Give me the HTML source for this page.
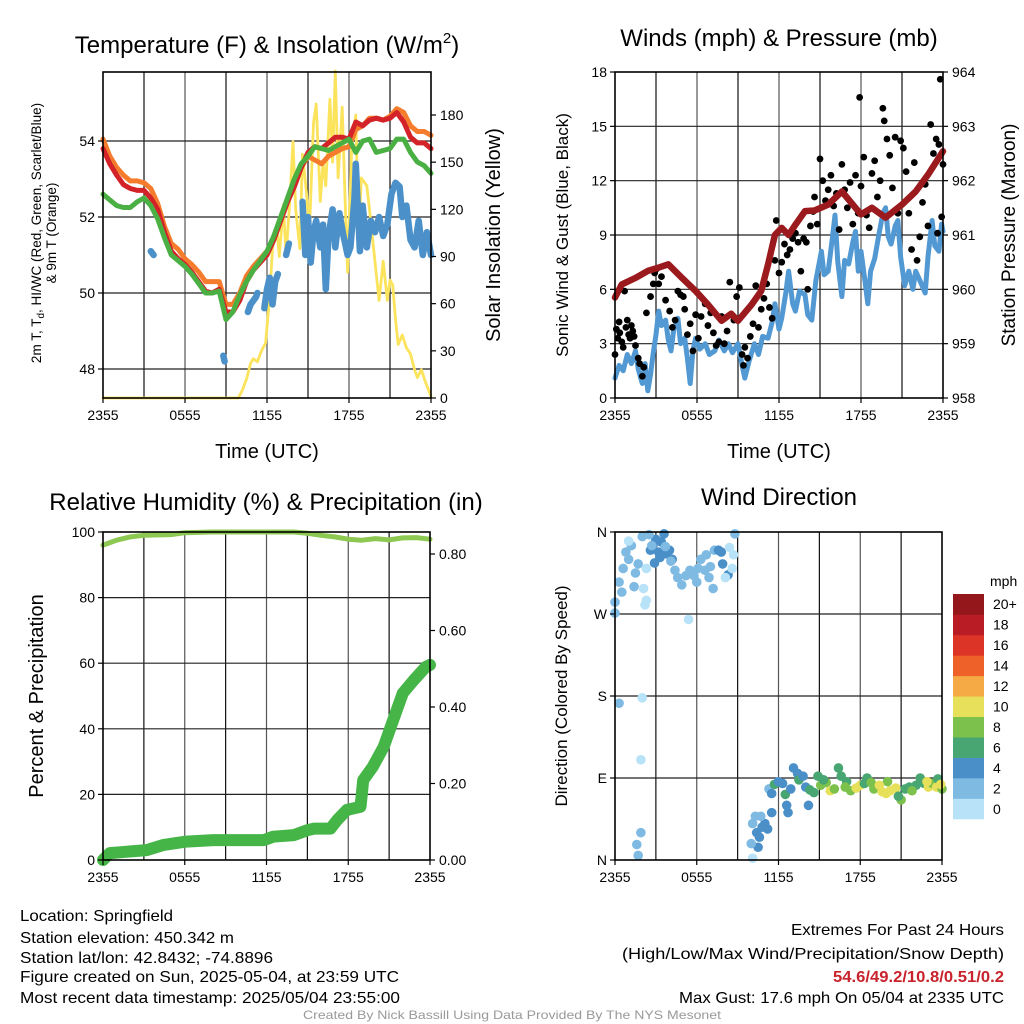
<!DOCTYPE html>
<html><head><meta charset="utf-8"><title>Mesonet station meteogram</title>
<style>
html,body{margin:0;padding:0;background:#fff;}
svg{display:block;font-family:"Liberation Sans",Arial,sans-serif;}
</style></head>
<body>
<svg id="chart" width="1024" height="1024" viewBox="0 0 1024 1024" xmlns="http://www.w3.org/2000/svg">
<rect x="0" y="0" width="1024" height="1024" fill="#fff"/>
<!-- titles -->
<text x="267" y="53" font-size="24" text-anchor="middle">Temperature (F) &amp; Insolation (W/m<tspan font-size="15" dy="-10">2</tspan><tspan dy="10">)</tspan></text>
<text x="779" y="46" font-size="24" text-anchor="middle">Winds (mph) &amp; Pressure (mb)</text>
<text x="266" y="510" font-size="24" text-anchor="middle">Relative Humidity (%) &amp; Precipitation (in)</text>
<text x="779" y="505" font-size="24" text-anchor="middle">Wind Direction</text>
<!-- axis titles -->
<text x="267" y="458" font-size="20" text-anchor="middle">Time (UTC)</text>
<text x="779" y="458" font-size="20" text-anchor="middle">Time (UTC)</text>
<text transform="translate(41,233) rotate(-90)" font-size="13.5" text-anchor="middle">2m T, T<tspan font-size="10" dy="3">d</tspan><tspan dy="-3">, HI/WC (Red, Green, Scarlet/Blue)</tspan></text>
<text transform="translate(56,233) rotate(-90)" font-size="13.5" text-anchor="middle">&amp; 9m T (Orange)</text>
<text transform="translate(500,235) rotate(-90)" font-size="20" text-anchor="middle">Solar Insolation (Yellow)</text>
<text transform="translate(568,235) rotate(-90)" font-size="17" text-anchor="middle">Sonic Wind &amp; Gust (Blue, Black)</text>
<text transform="translate(1015,235) rotate(-90)" font-size="19" text-anchor="middle">Station Pressure (Maroon)</text>
<text transform="translate(43,696) rotate(-90)" font-size="20" text-anchor="middle">Percent &amp; Precipitation</text>
<text transform="translate(567,696) rotate(-90)" font-size="17" text-anchor="middle">Direction (Colored By Speed)</text>
<!-- info text -->
<g font-size="16">
<text x="20" y="921" textLength="153" lengthAdjust="spacingAndGlyphs">Location: Springfield</text>
<text x="20" y="943" textLength="214" lengthAdjust="spacingAndGlyphs">Station elevation: 450.342 m</text>
<text x="20" y="963" textLength="253" lengthAdjust="spacingAndGlyphs">Station lat/lon: 42.8432; -74.8896</text>
<text x="20" y="982" textLength="379" lengthAdjust="spacingAndGlyphs">Figure created on Sun, 2025-05-04, at 23:59 UTC</text>
<text x="20" y="1003" textLength="380" lengthAdjust="spacingAndGlyphs">Most recent data timestamp: 2025/05/04 23:55:00</text>
</g>
<g font-size="16">
<text x="791" y="935" textLength="213" lengthAdjust="spacingAndGlyphs">Extremes For Past 24 Hours</text>
<text x="622" y="959" textLength="382" lengthAdjust="spacingAndGlyphs">(High/Low/Max Wind/Precipitation/Snow Depth)</text>
<text x="833" y="982" textLength="171" lengthAdjust="spacingAndGlyphs" font-weight="bold" fill="#c8232c">54.6/49.2/10.8/0.51/0.2</text>
<text x="679" y="1003" textLength="325" lengthAdjust="spacingAndGlyphs">Max Gust: 17.6 mph On 05/04 at 2335 UTC</text>
</g>
<text x="303" y="1019" font-size="12" fill="#999" textLength="418" lengthAdjust="spacingAndGlyphs">Created By Nick Bassill Using Data Provided By The NYS Mesonet</text>
</svg>
<script>
// ---------- data ----------
const hourTicks = ["2355","0555","1155","1755","2355"];
const halfHours = [0,0.5,1,1.5,2,2.5,3,3.5,4,4.5,5,5.5,6,6.5,7,7.5,8,8.5,9,9.5,10,10.5,11,11.5,12,12.5,13,13.5,14,14.5,15,15.5,16,16.5,17,17.5,18,18.5,19,19.5,20,20.5,21,21.5,22,22.5,23,23.5,24];
const tempRed = [53.8,53.4,53.1,52.85,52.75,52.7,52.7,52.5,52.2,51.6,51.1,50.9,50.75,50.55,50.3,50.05,50.0,50.1,49.5,49.5,49.8,50.3,50.6,50.8,51.0,51.4,51.9,52.4,52.8,53.3,53.7,53.85,53.8,53.95,54.1,54.1,54.05,54.5,54.4,54.55,54.6,54.55,54.6,54.75,54.5,54.1,53.95,53.95,53.8];
const temp9m = [54.05,53.6,53.3,53.1,52.95,52.95,52.9,52.75,52.35,51.75,51.3,51.15,50.9,50.75,50.55,50.3,50.3,50.3,49.7,49.7,50.0,50.45,50.7,50.9,51.1,51.4,51.9,52.4,52.8,53.3,53.6,53.5,53.4,53.6,53.7,53.8,53.85,54.3,54.4,54.6,54.6,54.55,54.65,54.85,54.75,54.4,54.25,54.25,54.15];
const dewGreen = [52.6,52.45,52.3,52.25,52.25,52.4,52.5,52.3,51.95,51.45,51.0,50.85,50.7,50.5,50.25,50.0,50.0,50.05,49.3,49.5,49.95,50.3,50.6,50.85,51.1,51.5,52.0,52.5,53.0,53.4,53.6,53.85,53.8,53.75,53.85,53.95,54.05,53.7,54.0,54.05,53.7,53.75,53.8,54.05,54.05,53.7,53.45,53.35,53.15];
const hiwcTimes = [3.5,3.7,8.8,8.9,10.6,10.8,11.2,11.3,11.8,12.0,12.2,12.4,12.6,12.8,13.4,13.6,14.6,14.8,15.0,15.2,15.4,15.6,15.9,16.1,16.3,16.5,16.8,17.0,17.3,17.6,17.9,18.1,18.4,18.5,18.8,19.0,19.3,19.6,19.9,20.2,20.5,20.8,21.1,21.4,21.7,21.9,22.2,22.5,22.8,23.1,23.4,23.7,24.0];
const hiwcVals = [51.1,51.0,48.35,48.2,49.5,49.7,49.9,50.0,49.6,50.1,50.4,49.7,50.3,50.5,51.0,51.3,52.4,51.0,52.0,50.8,51.6,51.9,51.2,51.8,50.1,51.5,52.2,51.2,52.1,51.5,51.0,51.2,52.5,53.4,51.1,52.3,51.2,51.9,51.6,52.0,51.5,51.8,52.6,52.9,52.8,52.0,52.3,51.4,51.2,51.9,51.0,51.6,51.0];
const solarTimes = [0,9.9,10.2,10.5,10.8,11.0,11.3,11.6,11.9,12.2,12.4,12.7,12.9,13.2,13.4,13.7,13.9,14.1,14.4,14.6,14.9,15.1,15.4,15.6,15.9,16.1,16.3,16.6,16.8,17.0,17.2,17.5,17.7,17.9,18.2,18.5,18.7,18.9,19.3,19.5,19.8,20.2,20.5,20.8,21.0,21.2,21.4,21.6,21.9,22.2,22.5,22.8,23.0,23.3,23.6,24];
const solarVals = [0,0,5,12,22,25,23,30,35,65,95,110,90,123,90,130,163,120,95,155,130,105,175,187,125,150,135,190,150,208,140,185,130,80,160,180,100,140,135,120,95,62,87,62,75,72,50,34,40,32,28,18,13,18,10,1];
const windTimes = [0,0.3,0.6,0.9,1.2,1.5,1.7,2.0,2.2,2.4,2.6,2.8,3.0,3.2,3.4,3.7,3.9,4.1,4.3,4.6,4.8,5.1,5.3,5.5,5.7,5.9,6.2,6.6,6.9,7.3,7.6,8.0,8.3,8.6,9.0,9.3,9.5,9.8,10.2,10.5,10.8,11.2,11.5,11.7,12.0,12.2,12.5,12.7,13.0,13.2,13.5,13.9,14.1,14.4,14.7,15.1,15.3,15.6,15.9,16.1,16.3,16.6,16.8,17.1,17.4,17.6,17.8,18.0,18.3,18.5,18.7,19.0,19.3,19.6,19.8,20.0,20.2,20.5,20.7,20.9,21.2,21.5,21.8,22.0,22.3,22.7,22.9,23.2,23.4,23.7,23.9,24];
const windVals = [1.1,1.8,1.5,2.4,1.9,2.6,1.6,0.8,1.9,0.4,1.3,2.5,3.5,4.8,4.0,4.3,3.2,2.6,3.8,4.4,3.0,3.3,2.2,0.8,2.6,3.3,2.7,3.0,2.4,2.6,3.2,2.6,3.0,2.5,3.0,1.8,1.1,2.0,3.0,2.4,3.4,3.3,4.2,5.2,3.8,4.4,5.8,7.0,5.2,4.8,5.9,5.7,4.6,4.3,6.5,8.1,6.8,7.0,8.8,10.1,7.5,5.6,7.6,7.4,8.6,9.2,7.0,8.1,6.4,5.2,7.0,7.7,9.0,10.2,10.5,8.9,8.5,9.5,9.8,7.8,6.2,7.0,6.0,7.0,6.5,5.8,7.8,9.8,8.4,8.1,9.6,9.2];
const gustTimes = [0.0,0.1,0.2,0.3,0.35,0.5,0.6,0.7,0.8,0.9,1.0,1.1,1.2,1.3,1.4,1.5,1.7,1.8,2.0,2.1,2.3,2.6,2.8,2.9,3.0,3.2,3.4,3.7,4.0,4.2,4.4,4.6,4.8,5.0,5.1,5.3,5.5,5.7,5.9,6.1,6.3,6.6,6.8,7.0,7.2,7.4,7.6,7.8,8.0,8.2,8.4,8.7,8.9,9.1,9.3,9.4,9.5,9.7,9.9,10.1,10.3,10.5,10.7,10.9,11.1,11.3,11.5,11.7,11.8,12.0,12.2,12.4,12.6,12.8,13.0,13.2,13.4,13.6,13.8,14.0,14.1,14.3,14.5,14.6,14.8,15.0,15.2,15.4,15.6,15.8,16.0,16.2,16.4,16.6,16.8,17.0,17.2,17.4,17.6,17.8,17.9,18.0,18.2,18.4,18.6,18.8,19.0,19.2,19.4,19.6,19.7,19.9,20.1,20.3,20.5,20.7,20.9,21.1,21.3,21.5,21.7,21.9,22.1,22.3,22.5,22.7,22.9,23.1,23.3,23.5,23.7,23.8,24.0,23.9,23.6];
const gustVals = [2.4,3.8,3.3,4.2,3.6,3.1,2.8,5.9,3.9,4.3,3.5,3.3,4.0,3.7,3.4,2.9,2.2,1.9,1.2,1.7,4.7,5.6,6.3,6.9,7.1,6.3,6.7,5.4,4.8,3.9,4.3,5.9,5.7,5.6,4.9,3.5,4.1,2.6,4.6,3.3,4.5,5.2,4.0,4.7,3.6,2.9,3.1,4.5,3.0,3.7,6.4,4.3,5.6,6.1,2.4,1.8,2.8,2.2,3.4,4.1,6.2,3.9,4.9,5.5,6.3,5.0,4.4,7.6,9.8,6.9,7.5,8.5,7.9,8.2,8.8,9.1,8.6,7.0,8.8,8.6,6.0,9.5,10.3,11.1,9.6,13.2,12.0,10.9,11.5,12.3,10.6,11.3,9.3,12.9,11.5,10.5,11.9,9.6,12.3,10.2,16.6,11.7,13.3,10.1,9.4,12.4,13.1,11.1,12.0,16.0,15.3,14.3,13.4,11.6,14.4,10.2,14.2,13.8,12.5,10.2,8.2,13.0,7.6,8.9,10.8,11.8,9.5,15.1,13.5,14.3,14.0,17.6,12.9,10.0,9.1];
const presTimes = [0,0.5,1.5,2.4,3.2,3.9,4.9,5.9,6.8,7.8,8.5,9.0,10.0,10.7,11.2,11.7,12.2,12.7,13.2,13.9,14.6,15.6,16.6,18.0,18.8,19.8,21.0,22.0,22.9,24];
const presVals = [959.85,960.09,960.21,960.34,960.4,960.46,960.21,959.97,959.72,959.42,959.55,959.42,959.72,959.97,960.46,961.0,961.13,961.0,961.19,961.44,961.45,961.56,961.8,961.38,961.5,961.32,961.56,961.8,962.11,962.54];
const rhTimes = [0,1,2,3,5,6,8,14,15,16,17,18,19,20,21,22,23,24];
const rhVals = [96,97.5,98.5,99,99.2,99.8,100,100,99.6,99,98.5,97.8,97.5,98,97.6,98.2,98.3,97.8];
const precipTimes = [0,0.5,3.2,4.4,6.1,8.1,11.8,12.5,14.0,15.0,15.5,16.7,17.2,17.9,18.9,19.0,19.1,19.8,20.6,21.3,22.0,22.8,23.7,24];
const precipVals = [0,0.018,0.026,0.039,0.048,0.052,0.052,0.061,0.065,0.078,0.082,0.082,0.105,0.131,0.139,0.174,0.209,0.244,0.296,0.366,0.436,0.47,0.505,0.51];
const dirTimes = [0.0,0.0,0.3,0.3,0.5,0.6,0.8,1.0,1.2,1.0,1.5,1.7,1.4,2.0,2.0,2.1,2.2,2.3,2.3,1.9,1.9,1.6,1.7,2.6,2.8,3.0,3.2,3.4,3.6,2.9,3.3,3.8,4.0,4.2,2.5,2.7,3.7,4.1,4.4,4.6,4.9,5.2,5.5,5.8,6.1,6.3,6.6,6.9,7.2,7.0,7.3,5.4,6.0,6.7,7.6,7.8,7.9,8.3,8.4,8.6,8.7,8.8,8.1,10.1,10.4,10.6,10.8,11.0,11.2,10.5,10.0,10.1,10.7,10.3,11.5,11.3,11.5,11.7,12.0,12.3,12.5,12.6,12.7,12.9,13.1,13.4,13.5,13.8,14.0,14.2,14.3,14.6,14.9,15.1,15.5,15.8,16.1,16.4,16.6,17.0,17.3,17.7,18.0,18.3,18.5,19.0,19.2,19.6,19.9,20.2,20.6,21.0,21.3,21.6,22.1,22.4,22.7,23.0,23.3,23.6,23.7,24.0,15.3,16.9,18.8,20.0,21.8,22.9,23.9,19.4,20.8];
const dirDegs = [271,283,305,172,294,320,338,330,345,350,315,325,300,355,178,298,280,285,320,110,30,17,5,340,346,352,338,349,358,326,332,336,340,330,357,345,344,328,318,310,302,312,318,312,320,330,318,310,298,322,340,264,305,335,340,338,325,313,343,320,335,358,310,40,30,25,36,40,34,14,18,2,48,48,52,78,73,83,86,84,72,60,52,78,101,95,88,92,80,60,77,74,92,82,85,76,78,101,92,86,76,79,82,84,90,78,80,75,73,76,79,66,78,80,82,90,84,80,84,80,89,78,88,80,85,86,76,86,83,82,70];
const dirSpeeds = [3,3,3,3,3,3,3,3,3,1,3,3,3,3,1,1,1,1,1,1,3,3,3,5,5,5,5,5,5,5,5,5,5,5,3,3,3,3,3,3,3,3,3,3,3,3,3,3,3,3,3,1,3,3,5,5,5,5,1,1,1,3,1,3,5,5,5,5,5,5,3,1,3,3,5,3,5,7,5,5,7,5,5,5,5,5,7,5,5,5,7,7,7,9,9,11,9,7,7,7,9,11,11,7,7,9,9,11,11,11,11,9,7,7,7,7,7,11,9,11,7,9,7,9,9,9,9,11,11,11,7,9];
const speedLabels = ["0","2","4","6","8","10","12","14","16","18","20+"];
const speedColors = ["#b7e2f7","#7fbae3","#4a8fc7","#48a672","#7cc14b","#e7e05a","#f5aa45","#ee6229","#dc3427","#ba1c25","#93171b"];
const tempTicks = [48,50,52,54];
const solarTicks = [0,30,60,90,120,150,180];
const windTicks = [0,3,6,9,12,15,18];
const presTicks = [958,959,960,961,962,963,964];
const pctTicks = [0,20,40,60,80,100];
const precipTicks = [0,0.2,0.4,0.6,0.8];
const dirTicks = [0,90,180,270,360];
const dirTickLabels = ["N","E","S","W","N"];

// ---------- helpers ----------
const NS = "http://www.w3.org/2000/svg";
const svg = document.getElementById("chart");
function mk(tag, attrs, parent) {
  const el = document.createElementNS(NS, tag);
  for (const k in attrs) el.setAttribute(k, attrs[k]);
  (parent || svg).appendChild(el);
  return el;
}
function lin(d0, d1, r0, r1) { return v => r0 + (v - d0) / (d1 - d0) * (r1 - r0); }

const P1 = {x0:103,x1:431,y0:72,y1:398};
const P2 = {x0:615,x1:943,y0:72,y1:398};
const P3 = {x0:103,x1:430,y0:532,y1:860};
const P4 = {x0:615,x1:942,y0:532,y1:860};

const x1s = lin(0,24,P1.x0,P1.x1), x2s = lin(0,24,P2.x0,P2.x1), x3s = lin(0,24,P3.x0,P3.x1), x4s = lin(0,24,P4.x0,P4.x1);
const yTemp = lin(54,48,141,369);
const ySolar = lin(0,180,398,115);
const yWind = lin(0,18,398,72);
const yPres = lin(958,964,398,72);
const yPct = lin(0,100,860,532);
const yPrecip = lin(0,0.2,860,783.5);
const yDir = lin(0,360,860,532);

function frame(P, hTicks, yfn, name) {
  const g = mk("g", {});
  
  
  for (let i = 1; i < 8; i++) {
    const x = P.x0 + i * (P.x1 - P.x0) / 8;
    const l = mk("line", {x1:x, x2:x, y1:P.y0, y2:P.y1, stroke:(i%2===0?"#555":"#111"), "stroke-width":1.2}, g);
    
    
  }
  hTicks.forEach(v => {
    const y = yfn(v);
    if (y <= P.y0 + 2 || y >= P.y1 - 2) return;
    const l = mk("line", {x1:P.x0, x2:P.x1, y1:y, y2:y, stroke:"#222", "stroke-width":1.2}, g);
    
    
  });
}
function border(P, name) {
  const r = mk("rect", {x:P.x0, y:P.y0, width:P.x1-P.x0, height:P.y1-P.y0, fill:"none", stroke:"#000", "stroke-width":1.6});
  
  
}
function xTicks(P, xs, name) {
  hourTicks.forEach((lab, i) => {
    const x = xs(i * 6);
    const t = mk("text", {x:x, y:P.y1+22, "font-size":14, "text-anchor":"middle"});
    t.textContent = lab;
    
    
    const tk = mk("line", {x1:x, x2:x, y1:P.y1, y2:P.y1+5, stroke:"#000", "stroke-width":1.2});
    
    
  });
}
function yTicks(P, ticks, yfn, side, fmt, name) {
  ticks.forEach((v, i) => {
    const y = yfn(v);
    const x = side === "left" ? P.x0 : P.x1;
    const tk = mk("line", {x1:x, x2: side==="left"? x-5 : x+5, y1:y, y2:y, stroke:"#000", "stroke-width":1.2});
    
    
    const t = mk("text", {x: side==="left"? x-8 : x+9, y:y+5, "font-size":14, "text-anchor": side==="left"?"end":"start"});
    t.textContent = fmt(v, i);
    
    
  });
}
function polyline(xs, ys, times, vals, color, width, name, gap) {
  const segs = [];
  let cur = [];
  for (let i = 0; i < times.length; i++) {
    if (cur.length && gap && times[i] - times[i-1] > gap) { segs.push(cur); cur = []; }
    cur.push(xs(times[i]).toFixed(1) + "," + ys(vals[i]).toFixed(1));
  }
  if (cur.length) segs.push(cur);
  segs.forEach(s => {
    if (s.length === 1) s.push(s[0]);
    const p = mk("polyline", {points:s.join(" "), fill:"none", stroke:color, "stroke-width":width, "stroke-linejoin":"round", "stroke-linecap":"round"});
    
    
  });
}

// ---------- panel 1 ----------
frame(P1, tempTicks, yTemp, "temperature");
polyline(x1s, ySolar, solarTimes, solarVals, "#fbe35c", 2.8, "solar-insolation-line");
polyline(x1s, yTemp, hiwcTimes, hiwcVals, "#4b90c9", 6.5, "heat-index-windchill-line", 0.45);
polyline(x1s, yTemp, halfHours, temp9m, "#f47c2c", 5, "temperature-9m-line");
polyline(x1s, yTemp, halfHours, tempRed, "#d42229", 5, "temperature-2m-line");
polyline(x1s, yTemp, halfHours, dewGreen, "#4bb043", 5, "dewpoint-line");
border(P1, "temperature");
xTicks(P1, x1s, "temperature");
yTicks(P1, tempTicks, yTemp, "left", v => String(v), "temperature-y");
yTicks(P1, solarTicks, ySolar, "right", v => String(v), "insolation-y");

// ---------- panel 2 ----------
frame(P2, windTicks, yWind, "winds");
polyline(x2s, yWind, windTimes, windVals, "#5299d3", 5, "sonic-wind-line");
gustTimes.forEach((t, i) => {
  const c = mk("circle", {cx:x2s(t), cy:yWind(gustVals[i]), r:3.4, fill:"#000"});
  
  
});
polyline(x2s, yPres, presTimes, presVals, "#9b1a1d", 6.5, "station-pressure-line");
border(P2, "winds");
xTicks(P2, x2s, "winds");
yTicks(P2, windTicks, yWind, "left", v => String(v), "wind-y");
yTicks(P2, presTicks, yPres, "right", v => String(v), "pressure-y");

// ---------- panel 3 ----------
frame(P3, pctTicks, yPct, "humidity");
polyline(x3s, yPct, rhTimes, rhVals, "#8dc853", 5, "relative-humidity-line");
polyline(x3s, yPrecip, precipTimes, precipVals, "#46b548", 12, "precipitation-line");
border(P3, "humidity");
xTicks(P3, x3s, "humidity");
yTicks(P3, pctTicks, yPct, "left", v => String(v), "percent-y");
yTicks(P3, precipTicks, yPrecip, "right", v => v.toFixed(2), "precip-y");

// ---------- panel 4 ----------
frame(P4, dirTicks, yDir, "direction");
dirTimes.forEach((t, i) => {
  const spd = dirSpeeds[i] !== undefined ? dirSpeeds[i] : 7;
  const bin = Math.min(10, Math.floor(spd / 2));
  const c = mk("circle", {cx:x4s(t), cy:yDir(dirDegs[i]), r:4.8, fill:speedColors[bin]});
  
  
});
border(P4, "direction");
xTicks(P4, x4s, "direction");
yTicks(P4, dirTicks, yDir, "left", (v, i) => dirTickLabels[i], "direction-y");

// colorbar
const cb = mk("g", {});


const cbTop = 594, cbBot = 819, cbX = 953, cbW = 31;
const boxH = (cbBot - cbTop) / speedColors.length;
speedColors.forEach((col, i) => {
  const y = cbBot - (i + 1) * boxH;
  const r = mk("rect", {x:cbX, y:y, width:cbW, height:boxH + 0.3, fill:col}, cb);
  
  
  const t = mk("text", {x:cbX + 40, y:y + boxH/2 + 5, "font-size":14}, cb);
  t.textContent = speedLabels[i];
  
  
});
const mph = mk("text", {x:cbX + 37, y:586, "font-size":14}, cb);
mph.textContent = "mph";


</script>
</body></html>
